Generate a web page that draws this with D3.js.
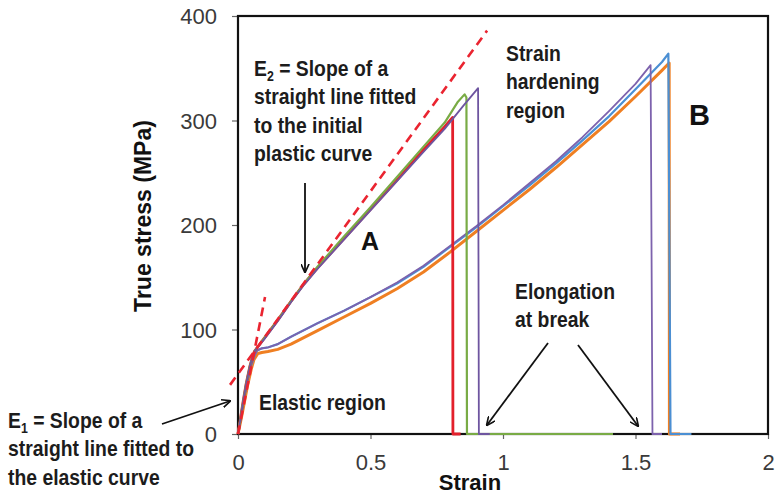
<!DOCTYPE html>
<html>
<head>
<meta charset="utf-8">
<script src="https://cdn.jsdelivr.net/npm/d3@7"></script>
<style>
  body { margin: 0; background: #fff; }
  svg { display: block; }
</style>
</head>
<body>
<div id="chart"></div>
<script>
// tick labels
var xTicks = [0, 0.5, 1, 1.5, 2];
var yTicks = [0, 100, 200, 300, 400];

// group A (break near 0.8 - 0.9)
var strainRed   = [0, 0.01, 0.02, 0.03, 0.045, 0.055, 0.062, 0.1, 0.15, 0.2, 0.25, 0.3, 0.4, 0.5, 0.6, 0.7, 0.78, 0.81, 0.811, 0.84];
var stressRed   = [0, 16, 32, 47, 65, 74, 79, 92, 109, 127, 144, 159, 187, 215, 243, 272, 294, 303, 0, 0];
var strainGreen = [0, 0.01, 0.02, 0.03, 0.045, 0.055, 0.062, 0.1, 0.15, 0.2, 0.25, 0.3, 0.4, 0.5, 0.6, 0.7, 0.78, 0.83, 0.855, 0.862, 0.864, 1.415];
var stressGreen = [0, 16, 32, 47, 65, 74, 79, 92, 109, 127, 144, 160, 189, 217, 246, 275, 298, 318, 325, 322, 0, 0];
var strainPurpleA = [0, 0.01, 0.02, 0.03, 0.045, 0.055, 0.062, 0.1, 0.15, 0.2, 0.25, 0.3, 0.4, 0.5, 0.6, 0.7, 0.78, 0.85, 0.906, 0.909, 0.95];
var stressPurpleA = [0, 16, 32, 47, 65, 74, 79, 91, 108, 126, 143, 158, 186, 214, 242, 270, 292, 314, 331, 0, 0];

// group B (break near 1.55 - 1.63)
var strainBlue   = [0, 0.01, 0.02, 0.035, 0.05, 0.062, 0.072, 0.09, 0.115, 0.15, 0.2, 0.3, 0.4, 0.5, 0.6, 0.7, 0.8, 0.9, 1.0, 1.1, 1.2, 1.3, 1.4, 1.5, 1.6, 1.624, 1.632, 1.711];
var stressBlue   = [0, 15, 30, 50, 66, 75, 80, 82, 83, 86, 93, 106, 118, 131, 144, 160, 179, 198, 218, 238, 259, 281, 304, 330, 356, 364, 0, 0];
var strainOrange = [0, 0.01, 0.02, 0.035, 0.05, 0.06, 0.075, 0.09, 0.113, 0.15, 0.2, 0.3, 0.4, 0.5, 0.6, 0.7, 0.8, 0.9, 1.0, 1.1, 1.2, 1.3, 1.4, 1.5, 1.6, 1.627, 1.628, 1.668];
var stressOrange = [0, 12, 25, 45, 62, 71, 77, 78, 79, 81, 86, 99, 112, 125, 139, 155, 174, 194, 214, 234, 255, 277, 299, 323, 348, 355, 0, 0];
var strainPurpleB = [0, 0.01, 0.02, 0.035, 0.05, 0.062, 0.072, 0.09, 0.115, 0.15, 0.2, 0.3, 0.4, 0.5, 0.6, 0.7, 0.8, 0.9, 1.0, 1.1, 1.2, 1.3, 1.4, 1.5, 1.557, 1.564, 1.6];
var stressPurpleB = [0, 15, 30, 50, 66, 75, 80, 82, 83, 86, 93, 106, 118, 131, 145, 161, 180, 199, 219, 240, 261, 284, 309, 335, 353, 0, 0];

// fitted slope lines (dashed)
var strainE1 = [0, 0.102];
var stressE1 = [0, 131];
var strainE2 = [-0.03, 0.94];
var stressE2 = [47, 386];

var W = 775, H = 496;
var margin = { top: 16, right: 7, bottom: 62, left: 238 };
var plotW = W - margin.left - margin.right;
var plotH = H - margin.top - margin.bottom;

var svg = d3.select('#chart').append('svg')
    .attr('width', W)
    .attr('height', H)
    .style('font-family', '"Liberation Sans", Arial, sans-serif');

var x = d3.scaleLinear().domain([0, 2]).range([margin.left, margin.left + plotW]);
var y = d3.scaleLinear().domain([0, 400]).range([margin.top + plotH, margin.top]);

// axes
var yAxis = svg.append('g')
    .attr('transform', 'translate(' + margin.left + ',0)')
    .call(d3.axisLeft(y).tickValues(yTicks).tickSize(6).tickPadding(15));
var xAxis = svg.append('g')
    .attr('transform', 'translate(0,' + (margin.top + plotH) + ')')
    .call(d3.axisBottom(x).tickValues(xTicks).tickSize(5).tickPadding(15).tickFormat(function(d) { return String(d); }));

[xAxis, yAxis].forEach(function(a) {
    a.select('.domain').remove();
    a.selectAll('line').attr('stroke', '#666').attr('stroke-width', 1.2);
    a.selectAll('text').attr('fill', '#3a3a3a').style('font-size', '22px').style('font-family', '"Liberation Sans", Arial, sans-serif');
});
yAxis.selectAll('text').attr('dy', '0.36em');

// frame
svg.append('rect')
    .attr('x', margin.left)
    .attr('y', margin.top)
    .attr('width', plotW)
    .attr('height', plotH)
    .attr('fill', 'none')
    .attr('stroke', '#111')
    .attr('stroke-width', 2.2);

var line = d3.line()
    .x(function(d) { return x(d[0]); })
    .y(function(d) { return y(d[1]); });

function pairs(xs, ys) {
    return xs.map(function(v, i) { return [v, ys[i]]; });
}

var series = [
    { xs: strainOrange,  ys: stressOrange,  color: '#ef7f22', w: 3 },
    { xs: strainBlue,    ys: stressBlue,    color: '#4b8fd3', w: 2.2 },
    { xs: strainPurpleB, ys: stressPurpleB, color: '#7d62ad', w: 1.8 },
    { xs: strainRed,     ys: stressRed,     color: '#e3202b', w: 2.8 },
    { xs: strainGreen,   ys: stressGreen,   color: '#79ab45', w: 2.2 },
    { xs: strainPurpleA, ys: stressPurpleA, color: '#6e55a0', w: 1.8 }
];

svg.append('g').selectAll('path')
    .data(series)
    .enter().append('path')
    .attr('d', function(s) { return line(pairs(s.xs, s.ys)); })
    .attr('fill', 'none')
    .attr('stroke', function(s) { return s.color; })
    .attr('stroke-width', function(s) { return s.w; })
    .attr('stroke-linejoin', 'round');

// dashed fits
[[strainE1, stressE1], [strainE2, stressE2]].forEach(function(f) {
    svg.append('path')
        .attr('d', line(pairs(f[0], f[1])))
        .attr('fill', 'none')
        .attr('stroke', '#ea2430')
        .attr('stroke-width', 2.6)
        .attr('stroke-dasharray', '9,6');
});

// axis titles
svg.append('text')
    .attr('transform', 'translate(151,216) rotate(-90)')
    .attr('text-anchor', 'middle')
    .style('font-size', '23px')
    .style('font-weight', 'bold')
    .attr('fill', '#111')
    .text('True stress (MPa)');
svg.append('text')
    .attr('x', 470)
    .attr('y', 490)
    .attr('text-anchor', 'middle')
    .style('font-size', '22px')
    .style('font-weight', 'bold')
    .attr('fill', '#111')
    .text('Strain');

// annotations
function block(px, py, lines, size, sx) {
    var t = svg.append('text')
        .attr('transform', 'translate(' + px + ',' + py + ') scale(' + sx + ',1)')
        .style('font-size', size + 'px')
        .style('font-weight', 'bold')
        .attr('fill', '#1c1c1c');
    lines.forEach(function(l, i) {
        var ts = t.append('tspan').attr('x', 0).attr('y', i * 28.5);
        if (typeof l === 'string') {
            ts.text(l);
        } else {
            ts.text(l[0]);
            t.append('tspan').attr('dy', 5).style('font-size', '14px').text(l[1]);
            t.append('tspan').attr('dy', -5).text(l[2]);
        }
    });
    return t;
}

block(254, 76, [['E', '2', ' = Slope of a'], 'straight line fitted', 'to the initial', 'plastic curve'], 22, 0.88);
block(506, 61, ['Strain', 'hardening', 'region'], 22, 0.88);
block(515, 299, ['Elongation', 'at break'], 22, 0.88);
block(259, 410, ['Elastic region'], 22, 0.88);
block(8, 428, [['E', '1', ' = Slope of a'], 'straight line fitted to', 'the elastic curve'], 22, 0.88);

svg.append('text').attr('x', 361).attr('y', 250)
    .style('font-size', '25px').style('font-weight', 'bold').attr('fill', '#111').text('A');
svg.append('text').attr('x', 689).attr('y', 125)
    .style('font-size', '29px').style('font-weight', 'bold').attr('fill', '#111').text('B');

// arrows
svg.append('defs').append('marker')
    .attr('id', 'arr')
    .attr('viewBox', '0 -5 10 10')
    .attr('refX', 9)
    .attr('refY', 0)
    .attr('markerWidth', 9)
    .attr('markerHeight', 9)
    .attr('markerUnits', 'userSpaceOnUse')
    .attr('orient', 'auto')
    .append('path')
    .attr('d', 'M0,-4.5L10,0L0,4.5')
    .attr('fill', 'none')
    .attr('stroke', '#111')
    .attr('stroke-width', 1.8);

var arrows = [
    [162, 424, 230, 401],
    [305, 183, 305, 272],
    [548, 343, 487, 425],
    [578, 345, 638, 426]
];
svg.append('g').selectAll('line')
    .data(arrows)
    .enter().append('line')
    .attr('x1', function(d) { return d[0]; })
    .attr('y1', function(d) { return d[1]; })
    .attr('x2', function(d) { return d[2]; })
    .attr('y2', function(d) { return d[3]; })
    .attr('stroke', '#111')
    .attr('stroke-width', 1.8)
    .attr('marker-end', 'url(#arr)');
</script>
</body>
</html>
